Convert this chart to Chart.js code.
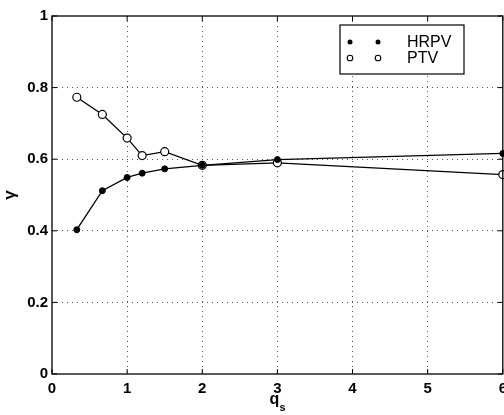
<!DOCTYPE html>
<html>
<head>
<meta charset="utf-8">
<script src="https://cdn.jsdelivr.net/npm/chart.js@4"></script>
<style>
  html, body { margin: 0; padding: 0; background: #fff; overflow: hidden; }
  #wrap { width: 504px; height: 415px; overflow: hidden; }
</style>
</head>
<body>
<div id="wrap"><canvas id="gammaChart" width="508" height="415"></canvas></div>
<script>
/* data */
const qs = [0.33, 0.67, 1, 1.2, 1.5, 2, 3, 6];
const hrpv = [0.403, 0.512, 0.549, 0.561, 0.573, 0.583, 0.599, 0.616];
const ptv = [0.773, 0.725, 0.659, 0.610, 0.621, 0.583, 0.590, 0.557];
const xTicks = [0, 1, 2, 3, 4, 5, 6];
const yTicks = [0, 0.2, 0.4, 0.6, 0.8, 1];
const seriesNames = ["HRPV", "PTV"];

const FONT = "Liberation Sans, Arial, sans-serif";

function toPoints(ys) {
    return qs.map((q, i) => ({ x: q, y: ys[i] }));
}

function noPadding(s) {
    s.paddingLeft = s.paddingRight = s.paddingTop = s.paddingBottom = 0;
}

// frame, inner ticks, x title and the legend box
const framePlugin = {
    id: "frame",
    afterDraw(chart) {
        const ctx = chart.ctx;
        const a = chart.chartArea;
        const xs = chart.scales.x;
        const ys = chart.scales.y;
        ctx.save();
        ctx.strokeStyle = "#000";
        ctx.lineWidth = 1.3;
        ctx.strokeRect(a.left, a.top, a.right - a.left, a.bottom - a.top);

        ctx.lineWidth = 1;
        xTicks.forEach(v => {
            const px = xs.getPixelForValue(v);
            ctx.beginPath();
            ctx.moveTo(px, a.bottom); ctx.lineTo(px, a.bottom - 5);
            ctx.moveTo(px, a.top); ctx.lineTo(px, a.top + 5);
            ctx.stroke();
        });
        yTicks.forEach(v => {
            const py = ys.getPixelForValue(v);
            ctx.beginPath();
            ctx.moveTo(a.left, py); ctx.lineTo(a.left + 5, py);
            ctx.moveTo(a.right, py); ctx.lineTo(a.right - 5, py);
            ctx.stroke();
        });

        // x axis title q with subscript s
        ctx.fillStyle = "#000";
        ctx.textBaseline = "alphabetic";
        ctx.textAlign = "left";
        ctx.font = "bold 16px " + FONT;
        const qx = (a.left + a.right) / 2 - 8;
        ctx.fillText("q", qx, 404);
        ctx.font = "bold 11px " + FONT;
        ctx.fillText("s", qx + 10, 411);

        // legend
        const lx = 340, ly = 25, lw = 124, lh = 49;
        ctx.fillStyle = "#fff";
        ctx.fillRect(lx, ly, lw, lh);
        ctx.strokeStyle = "#000";
        ctx.lineWidth = 1.2;
        ctx.strokeRect(lx, ly, lw, lh);
        const rows = [ly + 17, ly + 33];
        chart.data.datasets.forEach((ds, i) => {
            const y = rows[i];
            [lx + 10, lx + 38].forEach(mx => {
                ctx.beginPath();
                ctx.arc(mx, y, i === 0 ? 2.5 : 2.8, 0, Math.PI * 2);
                if (i === 0) {
                    ctx.fillStyle = "#000";
                    ctx.fill();
                } else {
                    ctx.fillStyle = "#fff";
                    ctx.fill();
                    ctx.lineWidth = 1.1;
                    ctx.stroke();
                }
            });
            ctx.fillStyle = "#000";
            ctx.font = "16px " + FONT;
            ctx.textBaseline = "middle";
            ctx.fillText(seriesNames[i], lx + 67, y + 1);
        });
        ctx.restore();
    }
};

const config = {
    type: "scatter",
    data: {
        datasets: [
            {
                label: seriesNames[0],
                data: toPoints(hrpv),
                showLine: true,
                borderColor: "#000",
                borderWidth: 1.3,
                pointRadius: 3,
                pointBackgroundColor: "#000",
                pointBorderColor: "#000",
                pointBorderWidth: 1,
                tension: 0,
                clip: false
            },
            {
                label: seriesNames[1],
                data: toPoints(ptv),
                showLine: true,
                borderColor: "#000",
                borderWidth: 1.3,
                pointRadius: 4,
                pointBackgroundColor: "#fff",
                pointBorderColor: "#000",
                pointBorderWidth: 1.2,
                tension: 0,
                clip: false
            }
        ]
    },
    options: {
        responsive: false,
        animation: false,
        events: [],
        layout: { padding: { top: 16, right: 0, left: 0, bottom: 0 } },
        plugins: {
            legend: { display: false },
            tooltip: { enabled: false }
        },
        scales: {
            x: {
                type: "linear",
                min: 0,
                max: 6,
                afterFit: s => { s.height = 41; noPadding(s); },
                afterBuildTicks: s => { s.ticks = xTicks.map(v => ({ value: v })); },
                grid: {
                    color: c => (c.tick.value === 0 || c.tick.value === 6) ? "rgba(0,0,0,0)" : "#555",
                    lineWidth: 1,
                    drawTicks: false
                },
                border: { display: false, dash: [1, 4] },
                ticks: {
                    color: "#000",
                    padding: 6,
                    font: { family: FONT, size: 15, weight: "bold" },
                    callback: v => String(v)
                }
            },
            y: {
                type: "linear",
                min: 0,
                max: 1,
                afterFit: s => { s.width = 52; noPadding(s); },
                afterBuildTicks: s => { s.ticks = yTicks.map(v => ({ value: v })); },
                grid: {
                    color: c => (c.tick.value === 0 || c.tick.value === 1) ? "rgba(0,0,0,0)" : "#555",
                    lineWidth: 1,
                    drawTicks: false
                },
                border: { display: false, dash: [1, 4] },
                title: {
                    display: true,
                    text: "γ",
                    color: "#000",
                    padding: { top: 0, bottom: 8 },
                    font: { family: FONT, size: 17, weight: "bold" }
                },
                ticks: {
                    color: "#000",
                    padding: 4,
                    font: { family: FONT, size: 15, weight: "bold" },
                    callback: v => String(v)
                }
            }
        }
    },
    plugins: [framePlugin]
};

const ctx = document.getElementById("gammaChart").getContext("2d");
const gammaChart = new Chart(ctx, config);
</script>
</body>
</html>
